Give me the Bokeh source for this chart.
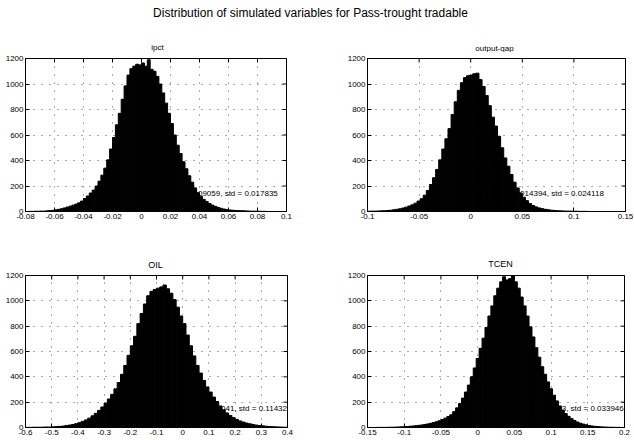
import math
from bokeh.plotting import figure
from bokeh.layouts import column, row
from bokeh.models import Range1d, FixedTicker, Label, ColumnDataSource
from bokeh.core.properties import value
from bokeh.embed import file_html
from bokeh.resources import INLINE

FONT = "Liberation Sans"

main_title = "Distribution of simulated variables for Pass-trought tradable"

y_tick_labels = ["0", "200", "400", "600", "800", "1000", "1200"]
y_max = 1200

# ---- ipct ----
ipct_title = "ipct"
ipct_stats = "mean = 0.0009059, std = 0.017835"
ipct_range = (-0.08, 0.1)
ipct_tick_labels = ["-0.08", "-0.06", "-0.04", "-0.02", "0", "0.02", "0.04", "0.06", "0.08", "0.1"]
ipct_bin_start = -0.08
ipct_bin_width = 0.002
ipct_counts = [0, 1, 1, 2, 2, 3, 3, 5, 7, 9,
               13, 17, 22, 28, 35, 42, 50, 58, 68, 82,
               102, 122, 145, 168, 200, 238, 285, 340, 405, 490,
               580, 680, 770, 880, 985, 1070, 1120, 1140, 1155, 1150,
               1165, 1140, 1190, 1115, 1100, 1060, 1000, 930, 850, 770,
               690, 600, 520, 455, 390, 335, 280, 230, 185, 148,
               120, 95, 78, 62, 50, 40, 32, 25, 19, 15,
               12, 10, 8, 7, 6, 5, 4, 3, 3, 2,
               2, 1, 1, 0, 0, 0, 0, 0, 0, 0]

# ---- output-gap ----
gap_title = "output-gap"
gap_stats = "mean = 0.0014394, std = 0.024118"
gap_range = (-0.1, 0.15)
gap_tick_labels = ["-0.1", "-0.05", "0", "0.05", "0.1", "0.15"]
gap_bin_start = -0.1
gap_bin_width = 0.003
gap_counts = [2, 3, 3, 4, 5, 6, 8, 10, 13, 17,
              21, 27, 34, 43, 52, 65, 82, 100, 128, 165,
              212, 265, 330, 405, 490, 570, 650, 760, 860, 950,
              1010, 1050, 1065, 1070, 1080, 1085, 1035, 980, 910, 830,
              740, 670, 590, 500, 420, 355, 290, 230, 185, 145,
              112, 85, 62, 47, 36, 28, 22, 17, 13, 10,
              8, 6, 5, 4, 3, 3, 2, 2, 1, 1,
              1, 0, 0, 0, 0, 0, 0, 0, 0, 0, 0, 0, 0]

# ---- OIL ----
oil_title = "OIL"
oil_stats = "mean = -0.086041, std = 0.11432"
oil_range = (-0.6, 0.4)
oil_tick_labels = ["-0.6", "-0.5", "-0.4", "-0.3", "-0.2", "-0.1", "0", "0.1", "0.2", "0.3", "0.4"]
oil_bin_start = -0.6
oil_bin_width = 0.0125
oil_counts = [1, 1, 2, 2, 2, 3, 4, 4, 5, 7,
              9, 11, 15, 19, 24, 30, 38, 48, 60, 74,
              92, 112, 135, 162, 192, 225, 262, 305, 355, 420,
              490, 570, 645, 720, 820, 900, 975, 1040, 1075, 1090,
              1100, 1110, 1125, 1095, 1060, 1010, 950, 880, 820, 730,
              645, 565, 490, 430, 372, 320, 280, 240, 205, 170,
              140, 115, 95, 78, 64, 52, 43, 35, 29, 24,
              19, 16, 13, 10, 8, 6, 5, 4, 3, 2]

# ---- TCEN ----
tcen_title = "TCEN"
tcen_stats = "mean = 0.040483, std = 0.033946"
tcen_range = (-0.15, 0.2)
tcen_tick_labels = ["-0.15", "-0.1", "-0.05", "0", "0.05", "0.1", "0.15", "0.2"]
tcen_bin_start = -0.15
tcen_bin_width = 0.004
tcen_counts = [0, 0, 0, 1, 1, 1, 1, 2, 2, 3,
               4, 5, 6, 8, 10, 12, 14, 17, 20, 24,
               28, 33, 39, 45, 53, 62, 74, 86, 100, 125,
               155, 190, 232, 280, 335, 400, 470, 545, 625, 705,
               790, 880, 960, 1040, 1100, 1150, 1190, 1165, 1175, 1210,
               1150, 1100, 1030, 960, 880, 795, 715, 630, 555, 480,
               420, 360, 305, 255, 210, 170, 138, 110, 88, 70,
               55, 43, 34, 27, 21, 16, 12, 9, 7, 5,
               4, 3, 2, 2, 1, 1, 0]


def make_panel(counts, bin_start, bin_width, xr, tick_labels, stats, stats_x,
               stats_y, width, height, bl, br, bt, bb):
    p = figure(width=width, height=height, x_range=Range1d(*xr), y_range=Range1d(0, y_max),
               output_backend="svg", toolbar_location=None,
               min_border_left=bl, min_border_right=br, min_border_top=bt, min_border_bottom=bb)
    p.background_fill_color = "white"
    p.border_fill_color = "white"
    p.outline_line_color = "black"
    p.outline_line_width = 1

    xticks = [float(s) for s in tick_labels]
    yticks = [float(s) for s in y_tick_labels]
    p.xaxis.ticker = FixedTicker(ticks=xticks)
    p.yaxis.ticker = FixedTicker(ticks=yticks)
    p.xaxis.major_label_overrides = {t: s for t, s in zip(xticks, tick_labels)}
    p.yaxis.major_label_overrides = {t: s for t, s in zip(yticks, y_tick_labels)}
    for ax in (p.xaxis, p.yaxis):
        ax.major_tick_in = 4
        ax.major_tick_out = 0
        ax.minor_tick_line_color = None
        ax.axis_line_color = "black"
        ax.major_tick_line_color = "black"
        ax.major_label_text_font = FONT
        ax.major_label_text_font_size = "8px"
        ax.major_label_text_color = "black"
        ax.major_label_standoff = 2

    p.xgrid.ticker = FixedTicker(ticks=xticks)
    p.ygrid.ticker = FixedTicker(ticks=yticks)
    p.grid.grid_line_color = "#555555"
    p.grid.grid_line_dash = "1 7"
    p.grid.grid_line_width = 1

    # statistics text (drawn first so the bars cover its left part)
    p.text(x=[stats_x], y=[stats_y], text=[stats], text_align="right", text_baseline="middle",
           text_font=value(FONT), text_font_size="8px", text_color="black")

    lefts = [bin_start + i * bin_width for i in range(len(counts))]
    rights = [l + bin_width for l in lefts]
    src = ColumnDataSource(dict(left=lefts, right=rights, top=counts, bottom=[0] * len(counts)))
    p.quad(left="left", right="right", top="top", bottom="bottom", source=src,
           fill_color="black", line_color="black", line_width=1)

    # mirrored inward ticks on the top and right edges of the box
    p.scatter(x=xticks, y=[y_max] * len(xticks), marker="dash", angle=math.pi / 2, size=8,
              line_color="black", line_width=1)
    p.scatter(x=[xr[1]] * len(yticks), y=yticks, marker="dash", size=8,
              line_color="black", line_width=1)
    return p


def strip(height, labels):
    f = figure(width=LW + RW, height=height, output_backend="svg", toolbar_location=None,
               x_range=Range1d(0, 1), y_range=Range1d(0, 1), min_border=0)
    f.axis.visible = False
    f.grid.visible = False
    f.outline_line_color = None
    for text, x, y, size in labels:
        f.add_layout(Label(x=x, y=y, x_units="screen", y_units="screen", text=text,
                           text_align="center", text_baseline="middle", text_font=FONT,
                           text_font_size=size, text_color="black"))
    return f


LW, RW = 330, 304
TITLE_H, TOP_H, MID_H, BOT_H = 52, 191, 27, 170

p1 = make_panel(ipct_counts, ipct_bin_start, ipct_bin_width, ipct_range,
                ipct_tick_labels, ipct_stats, 0.094, 141, LW, TOP_H, 25, 44, 6, 32)
p2 = make_panel(gap_counts, gap_bin_start, gap_bin_width, gap_range,
                gap_tick_labels, gap_stats, 0.129, 141, RW, TOP_H, 37, 9, 6, 32)
p3 = make_panel(oil_counts, oil_bin_start, oil_bin_width, oil_range,
                oil_tick_labels, oil_stats, 0.398, 150, LW, BOT_H, 25, 43, 5, 13)
p4 = make_panel(tcen_counts, tcen_bin_start, tcen_bin_width, tcen_range,
                tcen_tick_labels, tcen_stats, 0.199, 150, RW, BOT_H, 37, 10, 5, 13)

top_strip = strip(TITLE_H, [(main_title, 310, 40, "12px"),
                            (ipct_title, 157, 5, "8px"),
                            (gap_title, 494, 4, "8px")])
mid_strip = strip(MID_H, [(oil_title, 155, 6, "9px"),
                          (tcen_title, 500, 7, "9px")])

layout = column(top_strip, row(p1, p2), mid_strip, row(p3, p4))

open("out.html", "w").write(file_html(layout, INLINE))
